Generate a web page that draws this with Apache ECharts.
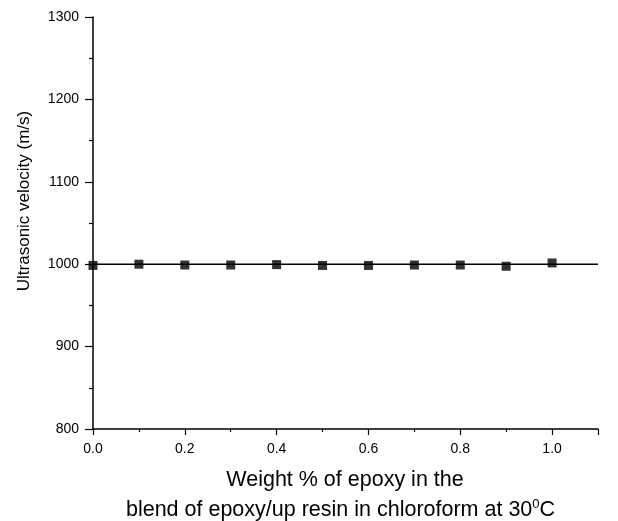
<!DOCTYPE html>
<html>
<head>
<meta charset="utf-8">
<script src="https://cdn.jsdelivr.net/npm/echarts@6/dist/echarts.min.js"></script>
<style>
  html, body { margin: 0; padding: 0; background: #fff; }
  #chart { width: 618px; height: 521px; }
</style>
</head>
<body>
<div id="chart"></div>
<script>
// weight % of epoxy
const weights = [0.0, 0.1, 0.2, 0.3, 0.4, 0.5, 0.6, 0.7, 0.8, 0.9, 1.0]
// ultrasonic velocity (m/s)
const velocity = [998.5, 1000, 999, 999, 999.5, 998.5, 998.5, 999, 999, 997.5, 1001.5]
// fitted line ends
const fitX = [0.0, 1.1]
const fitY = [1000, 1000]

const chart = echarts.init(document.getElementById('chart'))
const font = 'Liberation Sans, Arial, sans-serif'

const option = {
  animation: false,
  grid: { left: 93, right: 20, top: 17, bottom: 92, outerBoundsMode: 'none', containLabel: false },
  xAxis: {
    type: 'value',
    min: 0,
    max: 1.1,
    interval: 0.2,
    splitLine: { show: false },
    axisLine: { onZero: false, lineStyle: { color: '#000', width: 1.5 } },
    axisTick: { length: 6, lineStyle: { color: '#000', width: 1.2 } },
    minorTick: { show: true, splitNumber: 2, length: 3, lineStyle: { color: '#000', width: 1.2 } },
    axisLabel: {
      color: '#000', fontFamily: font, fontSize: 14, margin: 13,
      showMaxLabel: false,
      formatter: v => v.toFixed(1)
    }
  },
  yAxis: {
    type: 'value',
    min: 800,
    max: 1300,
    interval: 100,
    splitLine: { show: false },
    axisLine: { show: true, lineStyle: { color: '#000', width: 1.5 } },
    axisTick: { show: true, length: 8, lineStyle: { color: '#000', width: 1.2 } },
    minorTick: { show: true, splitNumber: 2, length: 4, lineStyle: { color: '#000', width: 1.2 } },
    axisLabel: { color: '#000', fontFamily: font, fontSize: 14, margin: 14, formatter: v => String(v) }
  },
  graphic: [
    {
      type: 'text',
      x: 24,
      y: 201,
      rotation: Math.PI / 2,
      style: {
        text: 'Ultrasonic velocity (m/s)',
        font: '17px ' + font,
        fill: '#000',
        textAlign: 'center',
        textVerticalAlign: 'middle'
      }
    },
    {
      type: 'text',
      x: 345,
      y: 480.5,
      style: {
        text: 'Weight % of epoxy in the',
        font: '21.5px ' + font,
        fill: '#000',
        textAlign: 'center',
        textVerticalAlign: 'middle'
      }
    },
    {
      type: 'text',
      x: 340.5,
      y: 510.5,
      style: {
        text: '{a|blend of epoxy/up resin in chloroform at 30}{s|0}{a|C}',
        fill: '#000',
        textAlign: 'center',
        textVerticalAlign: 'middle',
        rich: {
          a: { fontFamily: font, fontSize: 21.5, fill: '#000', lineHeight: 24 },
          s: { fontFamily: font, fontSize: 13, fill: '#000', lineHeight: 24, padding: [0, 0, 12, 0] }
        }
      }
    }
  ],
  series: [
    {
      type: 'line',
      data: fitX.map((x, i) => [x, fitY[i]]),
      symbol: 'none',
      lineStyle: { color: '#000', width: 1.5 },
      silent: true
    },
    {
      type: 'scatter',
      data: weights.map((x, i) => [x, velocity[i]]),
      symbol: 'rect',
      symbolSize: 9,
      itemStyle: { color: '#000' }
    }
  ]
}
chart.setOption(option)
</script>
</body>
</html>
